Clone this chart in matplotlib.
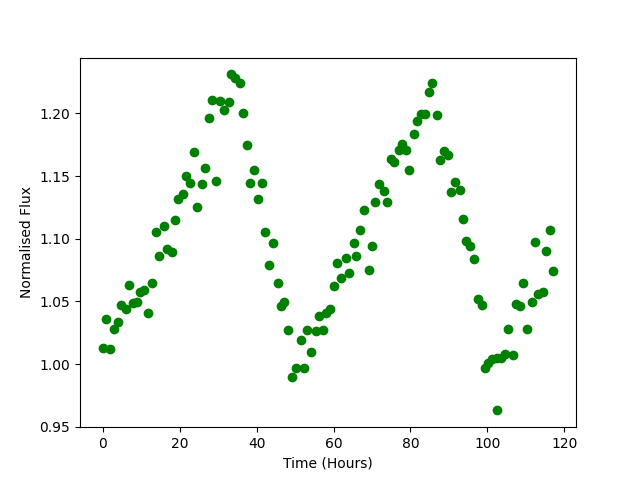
import matplotlib
matplotlib.use("Agg")
import matplotlib.pyplot as plt

# time in hours and normalised flux
TIME = [-0.1, 0.8, 1.9, 2.9, 4.0, 4.7, 5.9, 6.9, 7.7, 8.9,
        9.6, 10.8, 11.8, 12.8, 13.9, 14.7, 15.8, 16.7, 17.9, 18.8,
        19.4, 20.7, 21.7, 22.7, 23.6, 24.5, 25.7, 26.6, 27.7, 28.5,
        29.5, 30.5, 31.6, 32.7, 33.3, 34.4, 35.6, 36.5, 37.5, 38.3,
        39.4, 40.4, 41.5, 42.2, 43.3, 44.3, 45.5, 46.4, 47.2, 48.2,
        49.3, 50.3, 51.4, 52.2, 53.2, 54.1, 55.3, 56.3, 57.2, 58.1,
        59.2, 60.2, 61.0, 62.0, 63.2, 64.1, 65.2, 65.9, 67.0, 68.0,
        69.1, 70.1, 70.9, 71.8, 73.0, 73.9, 75.0, 75.8, 76.9, 77.9,
        78.9, 79.6, 80.8, 81.7, 82.8, 83.8, 84.8, 85.7, 86.8, 87.7,
        88.7, 89.7, 90.6, 91.7, 92.8, 93.7, 94.5, 95.6, 96.6, 97.6,
        98.5, 99.5, 100.3, 101.3, 102.5, 102.6, 103.5, 104.6, 105.5, 106.6,
        107.5, 108.4, 109.4, 110.4, 111.6, 112.5, 113.2, 114.4, 115.3, 116.4,
        117.2]

FLUX = [1.0125, 1.0364, 1.0117, 1.0284, 1.0340, 1.0468, 1.0436, 1.0635, 1.0489, 1.0497,
        1.0576, 1.0590, 1.0406, 1.0650, 1.1050, 1.0866, 1.1105, 1.0919, 1.0898, 1.1153,
        1.1318, 1.1355, 1.1503, 1.1448, 1.1695, 1.1257, 1.1440, 1.1567, 1.1966, 1.2109,
        1.1463, 1.2096, 1.2029, 1.2092, 1.2311, 1.2279, 1.2245, 1.2006, 1.1751, 1.1448,
        1.1551, 1.1320, 1.1448, 1.1052, 1.0794, 1.0970, 1.0651, 1.0460, 1.0497, 1.0271,
        0.9894, 0.9968, 1.0189, 0.9973, 1.0276, 1.0096, 1.0263, 1.0380, 1.0276, 1.0406,
        1.0436, 1.0622, 1.0807, 1.0685, 1.0845, 1.0723, 1.0964, 1.0866, 1.1073, 1.1233,
        1.0749, 1.0946, 1.1291, 1.1434, 1.1384, 1.1296, 1.1639, 1.1614, 1.1710, 1.1753,
        1.1707, 1.1551, 1.1838, 1.1942, 1.1997, 1.1997, 1.2167, 1.2239, 1.1989, 1.1631,
        1.1697, 1.1668, 1.1370, 1.1450, 1.1386, 1.1161, 1.0980, 1.0946, 1.0842, 1.0520,
        1.0475, 0.9973, 1.0010, 1.0040, 1.0048, 0.9631, 1.0050, 1.0077, 1.0284, 1.0069,
        1.0478, 1.0460, 1.0651, 1.0284, 1.0492, 1.0978, 1.0563, 1.0579, 1.0906, 1.1068,
        1.0739]

fig, ax = plt.subplots(figsize=(6.4, 4.8), dpi=100)
ax.plot(TIME, FLUX, 'o', color='green')
ax.set_xlabel('Time (Hours)')
ax.set_ylabel('Normalised Flux')

fig.savefig('out.png')
